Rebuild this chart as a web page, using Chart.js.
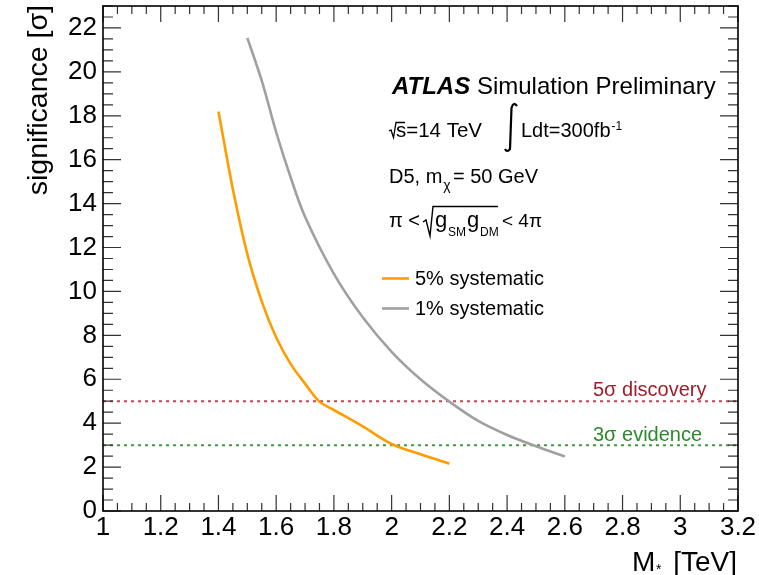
<!DOCTYPE html>
<html lang="en">
<head>
<meta charset="utf-8">
<title>Significance vs M*</title>
<style>
  html, body { margin: 0; padding: 0; background: #fff; }
</style>
</head>
<body>
<canvas id="myChart" width="759" height="575"></canvas>

<script src="https://cdn.jsdelivr.net/npm/chart.js/dist/chart.umd.min.js"></script>
<script>
// values
const massOrange = [1.4, 1.45, 1.5, 1.55, 1.6, 1.65, 1.7, 1.75, 1.8, 1.9, 2.0, 2.1, 2.2];
const sigOrange = [18.2, 14.65, 11.7, 9.55, 7.9, 6.7, 5.8, 4.98, 4.6, 3.85, 3.05, 2.58, 2.15];
const massGray = [1.5, 1.55, 1.6, 1.65, 1.7, 1.8, 1.9, 2.0, 2.1, 2.2, 2.3, 2.4, 2.5, 2.6];
const sigGray = [21.55, 19.6, 17.25, 15.2, 13.4, 10.8, 8.82, 7.25, 6.0, 4.98, 4.1, 3.46, 2.95, 2.48];
const discoveryLevel = 5;
const evidenceLevel = 3;
const xTicks = [1, 1.2, 1.4, 1.6, 1.8, 2, 2.2, 2.4, 2.6, 2.8, 3, 3.2];
const yTicks = [0, 2, 4, 6, 8, 10, 12, 14, 16, 18, 20, 22];

const FONT = '"Liberation Sans", Arial, Helvetica, sans-serif';
const ORANGE = '#ff9c00';
const GRAY = '#a0a0a0';

function pts(xs, ys) {
  return xs.map((x, i) => ({ x: x, y: ys[i] }));
}
function level(v) {
  return [{ x: 1, y: v }, { x: 3.2, y: v }];
}

// frame, ROOT style ticks, labels
const decorations = {
  id: 'decorations',
  afterDraw(chart) {
    const ctx = chart.ctx;
    const a = chart.chartArea;
    const xs = chart.scales.x;
    const ys = chart.scales.y;
    ctx.save();

    // ticks on all four sides
    ctx.strokeStyle = '#333';
    ctx.lineWidth = 1.2;
    ctx.beginPath();
    for (let i = 0; i <= 44; i++) {
      const v = 1 + i * 0.05;
      const px = xs.getPixelForValue(v);
      const len = (i % 4 === 0) ? 16 : 8;
      ctx.moveTo(px, a.bottom); ctx.lineTo(px, a.bottom - len);
      ctx.moveTo(px, a.top); ctx.lineTo(px, a.top + len);
    }
    for (let i = 0; i <= 46; i++) {
      const v = i * 0.5;
      const py = ys.getPixelForValue(v);
      const len = (i % 4 === 0) ? 18 : 10;
      ctx.moveTo(a.left, py); ctx.lineTo(a.left + len, py);
      ctx.moveTo(a.right, py); ctx.lineTo(a.right - len, py);
    }
    ctx.stroke();

    // frame
    ctx.strokeStyle = '#000';
    ctx.lineWidth = 1.6;
    ctx.strokeRect(a.left, a.top, a.right - a.left, a.bottom - a.top);

    ctx.fillStyle = '#000';
    ctx.textBaseline = 'alphabetic';

    // axis titles
    ctx.save();
    ctx.translate(47, 5);
    ctx.rotate(-Math.PI / 2);
    ctx.textAlign = 'right';
    ctx.font = '28.5px ' + FONT;
    ctx.fillText('significance [σ]', 0, 0);
    ctx.restore();

    ctx.textAlign = 'left';
    ctx.font = '28px ' + FONT;
    ctx.fillText('M', 632, 571);
    ctx.font = '14px ' + FONT;
    ctx.fillText('*', 656, 574);
    ctx.font = '28px ' + FONT;
    ctx.textAlign = 'right';
    ctx.fillText('[TeV]', 737, 571);
    ctx.textAlign = 'left';

    // ATLAS label
    ctx.font = 'italic bold 24px ' + FONT;
    ctx.fillText('ATLAS', 392, 94);
    const aw = ctx.measureText('ATLAS').width;
    ctx.font = '24px ' + FONT;
    ctx.fillText(' Simulation Preliminary', 392 + aw, 94);

    // sqrt(s)=14 TeV  int Ldt = 300 fb-1
    ctx.lineWidth = 1.3;
    ctx.strokeStyle = '#000';
    ctx.beginPath();
    ctx.moveTo(389, 131); ctx.lineTo(391, 130); ctx.lineTo(393.5, 137.5);
    ctx.lineTo(396, 122.5); ctx.lineTo(405, 122.5);
    ctx.stroke();
    ctx.font = '20.5px ' + FONT;
    ctx.fillText('s=14 TeV', 396, 137);
    ctx.lineWidth = 2.2;
    ctx.beginPath();
    ctx.moveTo(505, 149);
    ctx.quadraticCurveTo(507, 153, 510, 149);
    ctx.lineTo(511.5, 108);
    ctx.quadraticCurveTo(513.5, 101, 517, 106);
    ctx.stroke();
    ctx.font = '20px ' + FONT;
    ctx.fillText('Ldt=300fb', 521, 137);
    const lw = ctx.measureText('Ldt=300fb').width;
    ctx.font = '12px ' + FONT;
    ctx.fillText('-1', 521 + lw + 1, 130);

    // D5, m_chi = 50 GeV
    ctx.font = '20px ' + FONT;
    ctx.fillText('D5, m', 389, 183);
    let w = ctx.measureText('D5, m').width;
    ctx.font = '14px ' + FONT;
    ctx.fillText('χ', 389 + w + 1, 190);
    ctx.font = '20px ' + FONT;
    ctx.fillText('= 50 GeV', 453, 183);

    // pi < sqrt(gSM gDM) < 4pi
    ctx.fillText('π <', 389, 227);
    ctx.lineWidth = 1.4;
    ctx.beginPath();
    ctx.moveTo(423, 222); ctx.lineTo(426, 220); ctx.lineTo(430, 236);
    ctx.lineTo(433, 206.5); ctx.lineTo(498, 206.5);
    ctx.stroke();
    ctx.font = '22px ' + FONT;
    ctx.fillText('g', 435, 227);
    ctx.font = '12px ' + FONT;
    ctx.fillText('SM', 448, 236);
    ctx.font = '22px ' + FONT;
    ctx.fillText('g', 467, 227);
    ctx.font = '12px ' + FONT;
    ctx.fillText('DM', 480, 236);
    ctx.font = '19px ' + FONT;
    ctx.fillText('< 4π', 502, 227);

    // legend
    const leg = [[ORANGE, '5% systematic', 278.5], [GRAY, '1% systematic', 308.5]];
    leg.forEach(([c, t, y]) => {
      ctx.strokeStyle = c;
      ctx.lineWidth = 2.6;
      ctx.beginPath();
      ctx.moveTo(382, y); ctx.lineTo(409, y);
      ctx.stroke();
      ctx.fillStyle = '#000';
      ctx.font = '20px ' + FONT;
      ctx.fillText(t, 415, y + 6.5);
    });

    // level labels
    ctx.font = '20px ' + FONT;
    ctx.fillStyle = '#a01e2a';
    ctx.fillText('5σ discovery', 593, ys.getPixelForValue(discoveryLevel) - 5);
    ctx.fillStyle = '#2a8a2a';
    ctx.fillText('3σ evidence', 593, ys.getPixelForValue(evidenceLevel) - 4.5);

    ctx.restore();
  }
};

const data = {
  datasets: [
    {
      label: '5% systematic',
      data: pts(massOrange, sigOrange),
      borderColor: ORANGE,
      borderWidth: 2.6,
      tension: 0.35,
      order: 0
    },
    {
      label: '1% systematic',
      data: pts(massGray, sigGray),
      borderColor: GRAY,
      borderWidth: 2.6,
      tension: 0.35,
      order: 1
    },
    {
      label: '5 sigma discovery',
      data: level(discoveryLevel),
      borderColor: '#c0474f',
      borderWidth: 2,
      borderDash: [3, 4],
      order: 2
    },
    {
      label: '3 sigma evidence',
      data: level(evidenceLevel),
      borderColor: '#3f9a3f',
      borderWidth: 2,
      borderDash: [3, 4],
      order: 3
    }
  ]
};

const config = {
  type: 'line',
  data: data,
  options: {
    responsive: false,
    animation: false,
    layout: { padding: { top: 6, right: 21, left: 0, bottom: 0 } },
    elements: { point: { radius: 0 } },
    plugins: {
      legend: { display: false },
      tooltip: { enabled: false }
    },
    scales: {
      x: {
        type: 'linear',
        min: 1,
        max: 3.2,
        grid: { display: false, drawTicks: false },
        border: { display: false },
        ticks: {
          color: '#000',
          font: { family: FONT, size: 26 },
          padding: 1,
          autoSkip: false,
          maxRotation: 0,
          callback: (v) => String(Number(v.toFixed(1)))
        },
        afterBuildTicks: (s) => { s.ticks = xTicks.map((v) => ({ value: v })); },
        afterFit: (s) => { s.height = 64; s.paddingLeft = 0; s.paddingRight = 0; }
      },
      y: {
        min: 0,
        max: 23,
        grid: { display: false, drawTicks: false },
        border: { display: false },
        ticks: {
          color: '#000',
          font: { family: FONT, size: 26 },
          padding: 6,
          autoSkip: false,
          callback: (v) => String(v)
        },
        afterBuildTicks: (s) => { s.ticks = yTicks.map((v) => ({ value: v })); },
        afterFit: (s) => { s.width = 103; s.paddingTop = 0; s.paddingBottom = 0; }
      }
    }
  },
  plugins: [decorations]
};

const ctx = document.getElementById('myChart').getContext('2d');
const myChart = new Chart(ctx, config);
</script>
</body>
</html>
